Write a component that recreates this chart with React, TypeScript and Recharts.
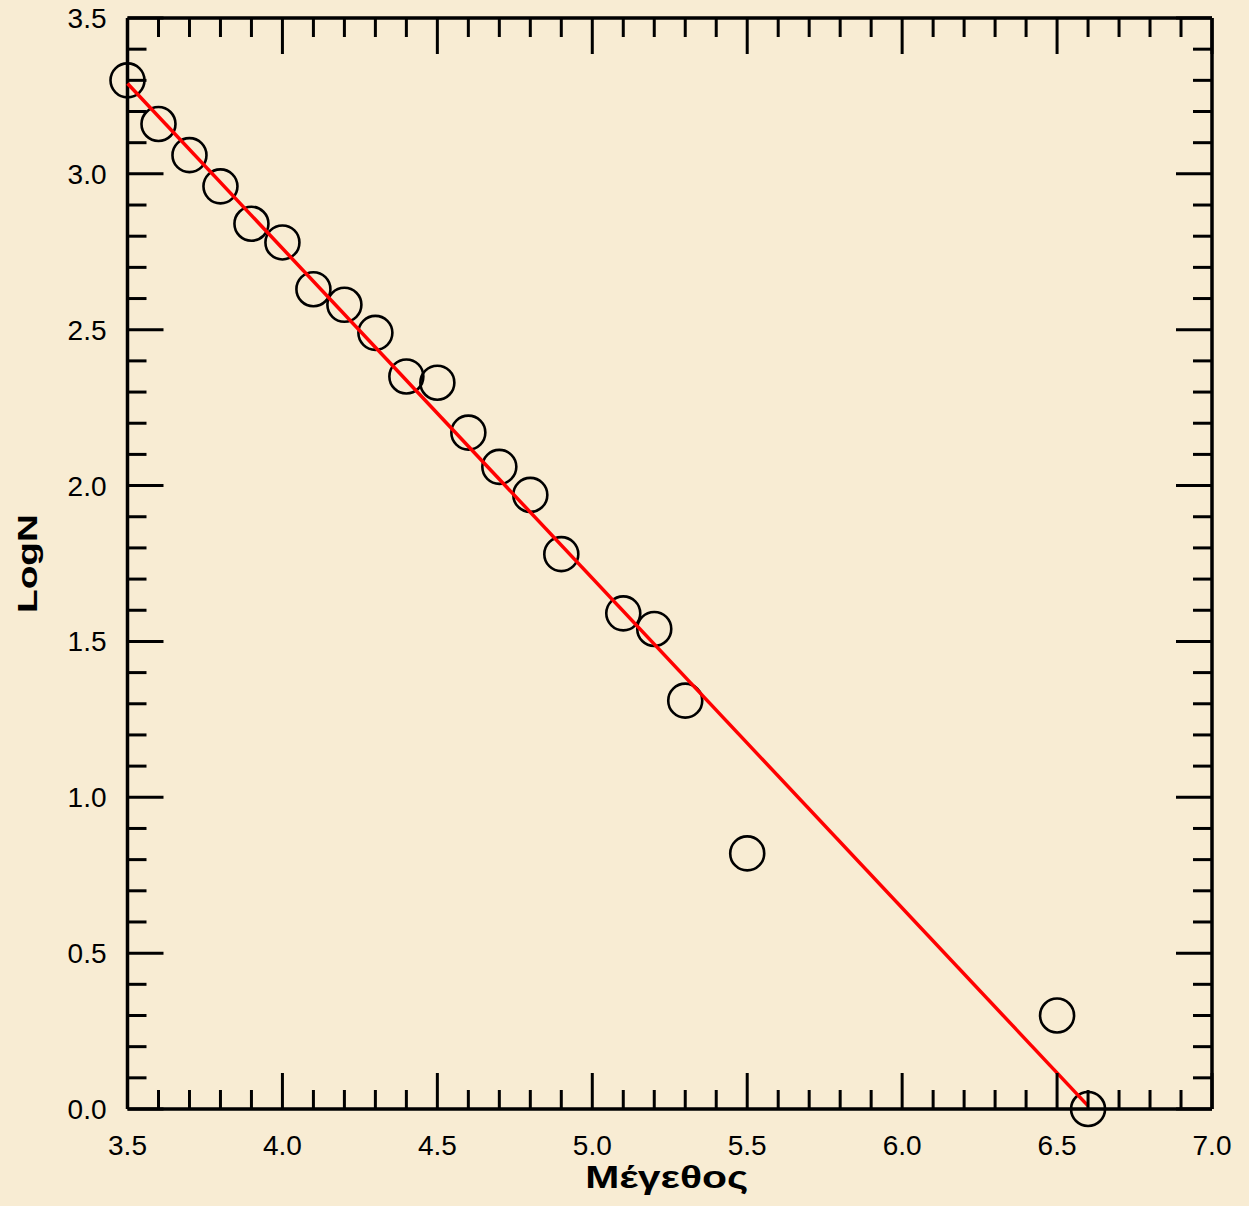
import React from "react";
import { ScatterChart, Scatter, XAxis, YAxis, Label } from "recharts";

// earthquake magnitude vs log of cumulative count
const magnitudes = [
  3.5, 3.6, 3.7, 3.8, 3.9, 4.0, 4.1, 4.2, 4.3, 4.4, 4.5, 4.6, 4.7, 4.8, 4.9,
  5.1, 5.2, 5.3, 5.5, 6.5, 6.6,
];
const logN = [
  3.3, 3.16, 3.06, 2.96, 2.84, 2.78, 2.63, 2.58, 2.49, 2.35, 2.33, 2.17, 2.06,
  1.97, 1.78, 1.59, 1.54, 1.31, 0.82, 0.3, 0.0,
];

// fitted line end points
const fitX = [3.5, 6.6];
const fitY = [3.29, 0.01];

const xMajorTicks = [3.5, 4.0, 4.5, 5.0, 5.5, 6.0, 6.5, 7.0];
const yMajorTicks = [0.0, 0.5, 1.0, 1.5, 2.0, 2.5, 3.0, 3.5];

const xLabel = "Μέγεθος";
const yLabel = "LogN";

const points = magnitudes.map((m, i) => ({ x: m, y: logN[i] }));
const fitLine = fitX.map((x, i) => ({ x, y: fitY[i] }));

// minor ticks every 0.1 between the major ones
const withMinor = (majors: number[]) => {
  const out: number[] = [];
  for (let i = 0; i < majors.length - 1; i++) {
    for (let k = 0; k < 5; k++) {
      out.push(Math.round((majors[i] + k * 0.1) * 10) / 10);
    }
  }
  out.push(majors[majors.length - 1]);
  return out;
};
const xTicks = withMinor(xMajorTicks);
const yTicks = withMinor(yMajorTicks);

const FONT = '"Liberation Sans", Arial, Helvetica, sans-serif';
const MAJOR = 36;
const MINOR = 19;
const isMajor = (v: number) => Math.abs(v * 2 - Math.round(v * 2)) < 1e-6;

const makeTick = (side: "bottom" | "top" | "left" | "right") => (props: any) => {
  const { x, y, payload } = props;
  const v = payload.value as number;
  const len = isMajor(v) ? MAJOR : MINOR;
  let line;
  if (side === "bottom") line = <line x1={x} y1={y} x2={x} y2={y - len} />;
  else if (side === "top") line = <line x1={x} y1={y} x2={x} y2={y + len} />;
  else if (side === "left") line = <line x1={x} y1={y} x2={x + len} y2={y} />;
  else line = <line x1={x} y1={y} x2={x - len} y2={y} />;
  return (
    <g>
      <g stroke="#000" strokeWidth={3}>{line}</g>
      {isMajor(v) && side === "bottom" && (
        <text x={x} y={y + 46} textAnchor="middle" fontSize={28} fontFamily={FONT} fill="#000">
          {v.toFixed(1)}
        </text>
      )}
      {isMajor(v) && side === "left" && (
        <text x={x - 21} y={y + 10} textAnchor="end" fontSize={28} fontFamily={FONT} fill="#000">
          {v.toFixed(1)}
        </text>
      )}
    </g>
  );
};

const XTitle = (props: any) => {
  const vb = props.viewBox;
  return (
    <text
      x={vb.x + vb.width / 2 - 3}
      y={vb.y + 79}
      textAnchor="middle"
      fontSize={31}
      fontWeight="bold"
      fontFamily={FONT}
      textLength={163}
      lengthAdjust="spacingAndGlyphs"
      fill="#000"
    >
      {xLabel}
    </text>
  );
};

const YTitle = (props: any) => {
  const vb = props.viewBox;
  const cx = 37;
  const cy = vb.y + vb.height / 2;
  return (
    <text
      x={cx}
      y={cy}
      transform={`rotate(-90, ${cx}, ${cy})`}
      textAnchor="middle"
      fontSize={27}
      fontWeight="bold"
      fontFamily={FONT}
      textLength={99}
      lengthAdjust="spacingAndGlyphs"
      fill="#000"
    >
      {yLabel}
    </text>
  );
};

const axisLine = { stroke: "#000", strokeWidth: 3.5 };

export default function App() {
  return (
    <div
      style={{
        position: "absolute",
        left: 0,
        top: 0,
        width: 1249,
        height: 1206,
        background: "#F8ECD3",
      }}
    >
      <ScatterChart
        width={1249}
        height={1206}
        margin={{ top: 17, right: 36, bottom: 0, left: 0 }}
      >
        <XAxis
          xAxisId="b"
          dataKey="x"
          type="number"
          domain={[3.5, 7.0]}
          ticks={xTicks}
          interval={0}
          orientation="bottom"
          height={97}
          tickSize={0}
          tickMargin={0}
          tickLine={false}
          axisLine={axisLine}
          tick={makeTick("bottom")}
        >
          <Label content={<XTitle />} />
        </XAxis>
        <XAxis
          xAxisId="t"
          dataKey="x"
          type="number"
          domain={[3.5, 7.0]}
          ticks={xTicks}
          interval={0}
          orientation="top"
          height={1}
          tickSize={0}
          tickMargin={0}
          tickLine={false}
          axisLine={axisLine}
          tick={makeTick("top")}
        />
        <YAxis
          yAxisId="l"
          dataKey="y"
          type="number"
          domain={[0, 3.5]}
          ticks={yTicks}
          interval={0}
          orientation="left"
          width={127.5}
          tickSize={0}
          tickMargin={0}
          tickLine={false}
          axisLine={axisLine}
          tick={makeTick("left")}
        >
          <Label content={<YTitle />} />
        </YAxis>
        <YAxis
          yAxisId="r"
          dataKey="y"
          type="number"
          domain={[0, 3.5]}
          ticks={yTicks}
          interval={0}
          orientation="right"
          width={1}
          tickSize={0}
          tickMargin={0}
          tickLine={false}
          axisLine={axisLine}
          tick={makeTick("right")}
        />
        <Scatter
          data={points}
          xAxisId="b"
          yAxisId="l"
          isAnimationActive={false}
          shape={(p: any) => (
            <circle cx={p.cx} cy={p.cy} r={17} fill="none" stroke="#000" strokeWidth={2.6} />
          )}
        />
        <Scatter
          data={fitLine}
          xAxisId="t"
          yAxisId="r"
          isAnimationActive={false}
          line={{ stroke: "#FF0000", strokeWidth: 3.5 }}
          shape={() => <g />}
        />
      </ScatterChart>
    </div>
  );
}
